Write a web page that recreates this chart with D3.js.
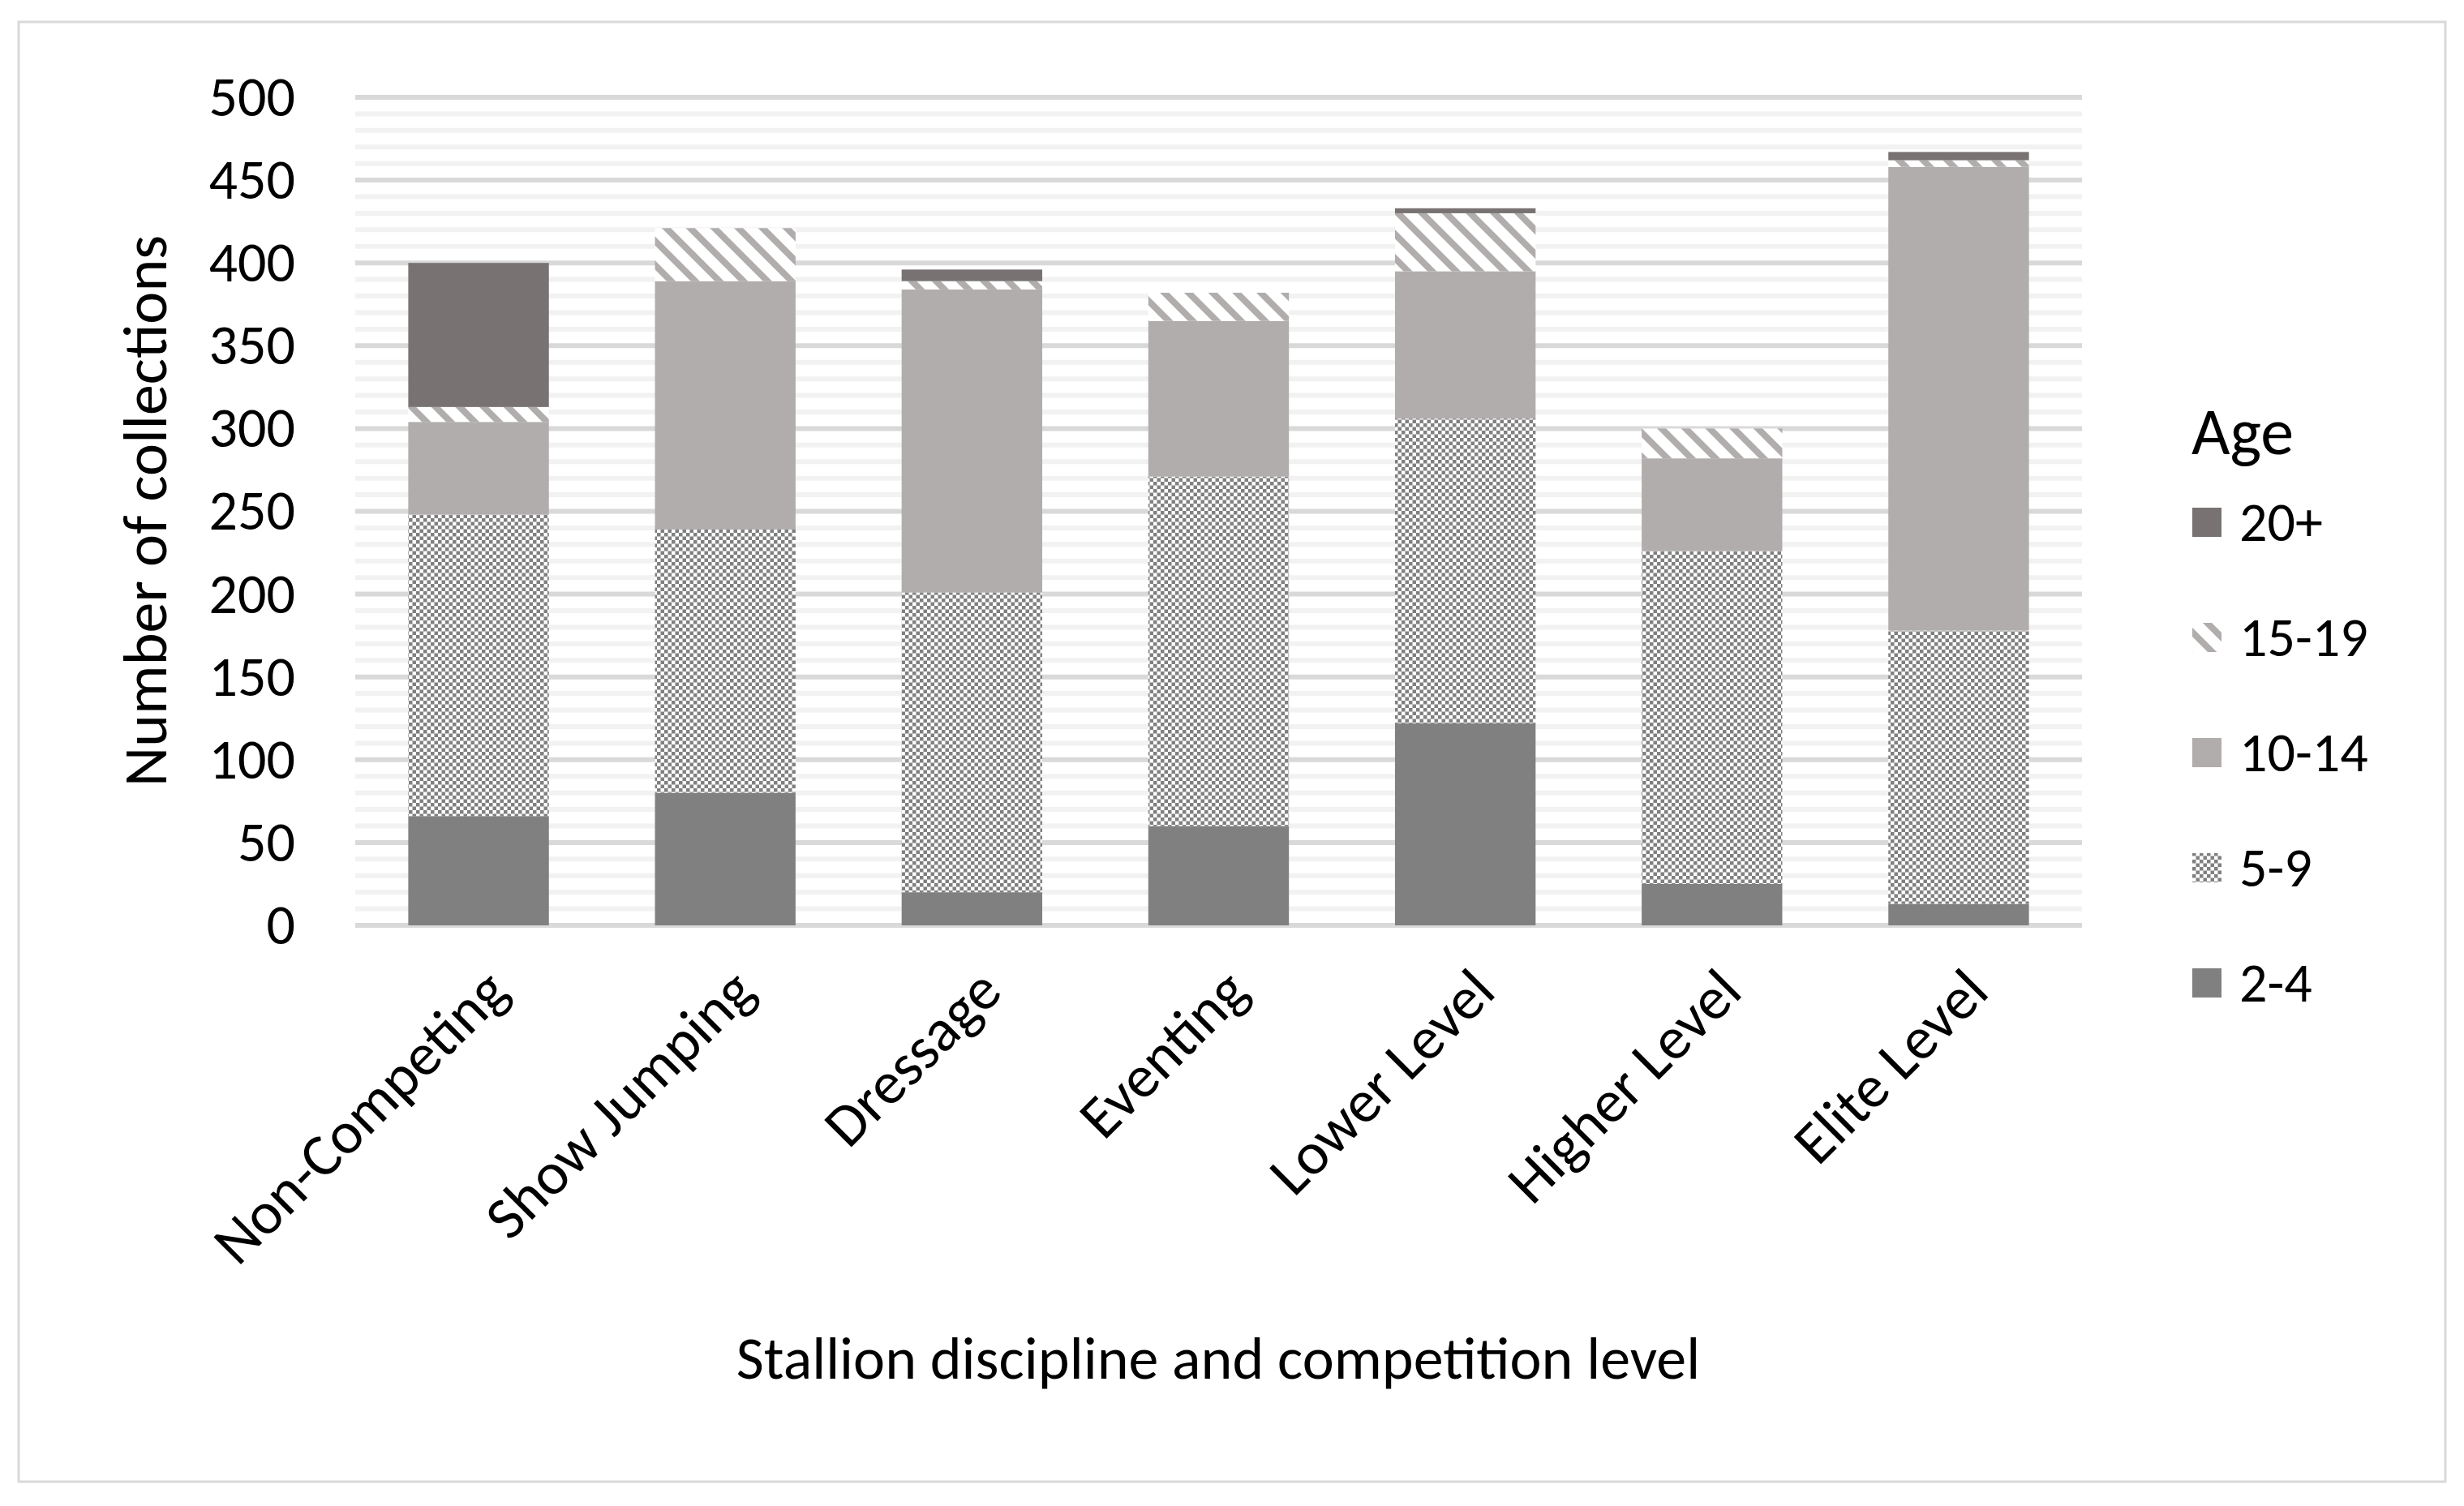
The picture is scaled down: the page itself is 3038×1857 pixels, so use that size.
<!DOCTYPE html>
<html><head><meta charset="utf-8">
<script src="https://cdn.jsdelivr.net/npm/d3@7"></script>
<style>body{margin:0;background:#fff}text{font-family:Carlito,"Open Sans","Noto Sans",sans-serif;fill:#000}</style>
</head><body><svg id="c" width="3038" height="1857"></svg>
<script>
const categories=["Non-Competing","Show Jumping","Dressage","Eventing","Lower Level","Higher Level","Elite Level"];
const ageGroups=["2-4","5-9","10-14","15-19","20+"];
const v2_4=[66,80,20,60,122,25,13];
const v5_9=[182,159,181,211,184,201,165];
const v10_14=[56,150,183,94,89,56,280];
const v15_19=[9,32,5,17,35,18,4];
const v20p=[87,0,7,0,3,0,5];
const yTicks=[0,50,100,150,200,250,300,350,400,450,500];
const seriesVals=[v2_4,v5_9,v10_14,v15_19,v20p];

const svg=d3.select("#c");
const defs=svg.append("defs");
const chk=defs.append("pattern").attr("id","chk").attr("patternUnits","userSpaceOnUse").attr("width",9).attr("height",9);
chk.append("rect").attr("width",9).attr("height",9).attr("fill","#fff");
chk.append("rect").attr("x",0).attr("y",0).attr("width",4.5).attr("height",4.5).attr("fill","#808080");
chk.append("rect").attr("x",4.5).attr("y",4.5).attr("width",4.5).attr("height",4.5).attr("fill","#808080");
const str=defs.append("pattern").attr("id","str").attr("patternUnits","userSpaceOnUse").attr("width",21).attr("height",21).attr("patternTransform","rotate(-45)");
str.append("rect").attr("width",21).attr("height",21).attr("fill","#fff");
str.append("rect").attr("width",8).attr("height",21).attr("fill","#b0adac");
const fills=["#808080","url(#chk)","#b0adac","url(#str)","#787372"];

svg.append("rect").attr("x",23).attr("y",27).attr("width",2992).attr("height",1800).attr("fill","none").attr("stroke","#d9d9d9").attr("stroke-width",3);

const x=d3.scaleBand().domain(categories).range([438,2567]).paddingInner(0.43).paddingOuter(0.215);
const y=d3.scaleLinear().domain([0,500]).range([1141,120]);

const minor=d3.range(0,501,10).filter(d=>d%50!==0);
svg.append("g").selectAll("line").data(minor).join("line").attr("x1",438).attr("x2",2567)
 .attr("y1",d=>y(d)).attr("y2",d=>y(d)).attr("stroke","#f2f2f2").attr("stroke-width",6);
svg.append("g").selectAll("line").data(yTicks).join("line").attr("x1",438).attr("x2",2567)
 .attr("y1",d=>y(d)).attr("y2",d=>y(d)).attr("stroke","#d9d9d9").attr("stroke-width",6);

const rows=categories.map((c,i)=>{const o={cat:c};ageGroups.forEach((g,j)=>o[g]=seriesVals[j][i]);return o;});
const stack=d3.stack().keys(ageGroups)(rows);
svg.append("g").selectAll("g").data(stack).join("g").attr("fill",(d,i)=>fills[i])
 .selectAll("rect").data(d=>d).join("rect")
 .attr("x",d=>x(d.data.cat)).attr("width",x.bandwidth())
 .attr("y",d=>y(d[1])).attr("height",d=>y(d[0])-y(d[1]));

const ya=svg.append("g").attr("transform","translate(438,0)").call(d3.axisLeft(y).tickValues(yTicks).tickSize(0).tickPadding(74));
ya.select(".domain").remove();
ya.selectAll("text").style("font-size","70px").style("font-family",'Carlito,"Open Sans",sans-serif');

const xa=svg.append("g").attr("transform","translate(0,1141)").call(d3.axisBottom(x).tickSize(0));
xa.select(".domain").remove();
xa.selectAll("text").style("font-size","74px").style("font-family",'Carlito,"Open Sans",sans-serif')
 .attr("text-anchor","end").attr("dy","0").attr("transform","translate(40,85) rotate(-45)").attr("y",0).attr("x",0);

svg.append("text").attr("transform","translate(205,630) rotate(-90)").attr("text-anchor","middle").style("font-size","76px").text("Number of collections");
svg.append("text").attr("x",1502).attr("y",1700).attr("text-anchor","middle").style("font-size","74px").text("Stallion discipline and competition level");

svg.append("text").attr("x",2702).attr("y",560).style("font-size","82px").text("Age");
const legOrder=[4,3,2,1,0];
const lg=svg.append("g").selectAll("g").data(legOrder).join("g").attr("transform",(d,i)=>`translate(2703,${643+i*142})`);
lg.append("rect").attr("x",0).attr("y",-17).attr("width",36).attr("height",36).attr("fill",d=>fills[d]);
lg.append("text").attr("x",58).attr("y",0).attr("dy","0.35em").style("font-size","68px").text(d=>ageGroups[d]);
</script></body></html>
